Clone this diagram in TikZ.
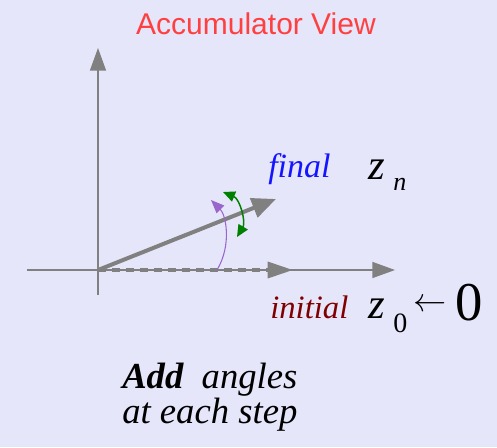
\documentclass[tikz,border=0pt]{standalone}
\usepackage{fontspec}
\setmainfont{Liberation Serif}
\newfontfamily\serf{Liberation Serif}
\newfontfamily\titlefont{Liberation Sans}
\usetikzlibrary{arrows.meta}
\definecolor{bgc}{RGB}{230,230,250}
\definecolor{axgray}{RGB}{128,128,128}
\definecolor{titlered}{RGB}{255,64,64}
\definecolor{finalblue}{RGB}{20,20,255}
\definecolor{initred}{RGB}{128,0,0}
\definecolor{arcpurple}{RGB}{153,102,204}
\definecolor{arcgreen}{RGB}{0,128,0}
\begin{document}
\begin{tikzpicture}[x=0.75pt,y=-0.75pt,
  axis/.style={draw=axgray,line width=1.1pt,-{Triangle[length=17pt,width=12pt]}},
  vec/.style={draw=axgray,line width=3pt,-{Triangle[length=18pt,width=15pt]}},
  dvec/.style={draw=axgray,line width=2.6pt,dash pattern=on 6pt off 4.5pt,-{Triangle[length=19pt,width=12pt]}},
  lbl/.style={inner sep=0pt,anchor=base west},
]
\fill[bgc] (0,0) rectangle (497,447);
\useasboundingbox (0,0) rectangle (497,447);
% coordinates
\coordinate (O) at (98,270);
\coordinate (ytop) at (98,48);
\coordinate (ybot) at (98,295);
\coordinate (xl) at (27,270);
\coordinate (xr) at (395,270);
\coordinate (fin) at (276,199);
\coordinate (ini) at (293,270);
\coordinate (pA) at (217,270);
\coordinate (pB) at (211,200);
\coordinate (gA) at (223,192);
\coordinate (gB) at (237,237);
% title
\node[inner sep=0pt,anchor=base,text=titlered,font=\titlefont\fontsize{22.5pt}{26pt}\selectfont] (title) at (256,34) {Accumulator View};
% axes
\draw[axis] (ybot) -- (ytop);
\draw[axis] (xl) -- (xr);
% vectors
\draw[dvec] (O) -- (ini);
\draw[vec] (O) -- (fin);
% arcs
\draw[arcpurple,line width=0.8pt,-{Triangle[length=10pt,width=8pt]}] (pA) .. controls (232,245) and (226,215) .. (pB);
\draw[arcgreen,line width=1.1pt,{Triangle[length=9pt,width=8pt]}-{Triangle[length=9pt,width=8pt]}] (gA) .. controls (240,199) and (246,222) .. (gB);
% labels
\node[lbl,text=finalblue,font=\serf\itshape\fontsize{25.5pt}{28pt}\selectfont] (final) at (268,177) {final};
\node[lbl,font=\serf\itshape\fontsize{32pt}{34pt}\selectfont] (zn) at (368,179) {z};
\node[lbl,font=\serf\itshape\fontsize{19.5pt}{22pt}\selectfont] (n) at (393,190) {n};
\node[lbl,text=initred,font=\serf\itshape\fontsize{24.5pt}{28pt}\selectfont] (initial) at (270,318) {initial};
\node[lbl,font=\serf\itshape\fontsize{32pt}{34pt}\selectfont] (z0) at (368,318) {z};
\node[lbl,font=\serf\fontsize{21pt}{24pt}\selectfont] (zero) at (393,332) {0};
\node[inner sep=0pt,anchor=center,font=\fontsize{33pt}{36pt}\selectfont] (larr) at (430,305) {$\leftarrow$};
\node[lbl,font=\serf\fontsize{41pt}{44pt}\selectfont] (bigzero) at (455,320) {0};
\node[inner sep=0pt,anchor=base west,align=left,font=\serf\itshape\fontsize{27.5pt}{21pt}\selectfont] (add) at (122,423) {\textbf{Add}\ \ angles\\at each step};
\end{tikzpicture}
\end{document}
